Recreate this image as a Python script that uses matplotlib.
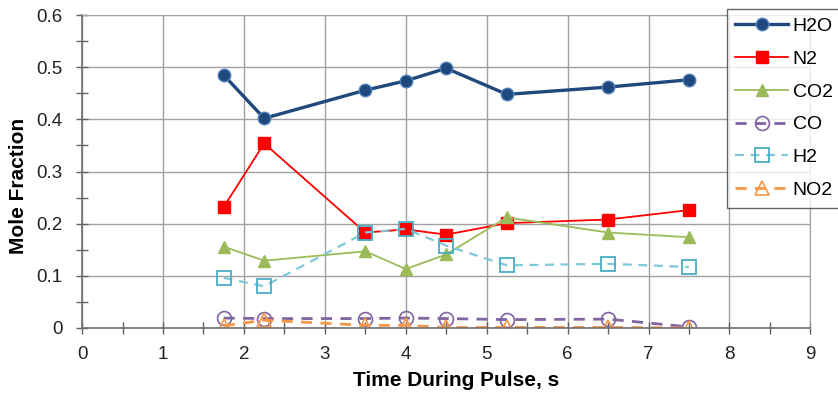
import numpy as np
import matplotlib.pyplot as plt
from matplotlib.ticker import MultipleLocator

plt.rcParams['font.family'] = ['Liberation Sans', 'DejaVu Sans']

# sample times during the pulse, s
time_s = [1.75, 2.25, 3.5, 4.0, 4.5, 5.25, 6.5, 7.5]

# mole fractions of each species
h2o = [0.485, 0.402, 0.456, 0.474, 0.498, 0.448, 0.462, 0.476]
n2 = [0.232, 0.354, 0.183, 0.189, 0.179, 0.201, 0.208, 0.226]
co2 = [0.156, 0.129, 0.147, 0.113, 0.141, 0.212, 0.183, 0.174]
co = [0.019, 0.018, 0.018, 0.019, 0.018, 0.016, 0.017, 0.002]
h2 = [0.096, 0.080, 0.183, 0.190, 0.158, 0.120, 0.123, 0.117]
no2 = [0.004, 0.015, 0.005, 0.005, 0.001, 0.001, 0.001, 0.0]

species = ['H2O', 'N2', 'CO2', 'CO', 'H2', 'NO2']


def main():
    fig = plt.figure(figsize=(8.38, 3.98), dpi=100)
    ax = fig.add_axes([0.098, 0.176, 0.869, 0.786])

    ax.plot(time_s, h2o, color='#1f497d', lw=2.4, marker='o', ms=9,
            mfc='#1f497d', mec='#4f81bd', mew=1.0, label=species[0])
    ax.plot(time_s, n2, color='#ff0000', lw=1.3, marker='s', ms=9,
            mfc='#ff0000', mec='#ff0000', label=species[1])
    ax.plot(time_s, co2, color='#9bbb59', lw=1.3, marker='^', ms=9,
            mfc='#9bbb59', mec='#9bbb59', label=species[2])
    ax.plot(time_s, co, color='#8064a2', lw=2.0, ls=(0, (4, 3)), marker='o',
            ms=10, mfc='none', mec='#8064a2', mew=1.2, label=species[3])
    ax.plot(time_s, h2, color='#7ec8dc', lw=1.6, ls=(0, (4, 3)), marker='s',
            ms=10, mfc='none', mec='#4bacc6', mew=1.3, label=species[4])
    ax.plot(time_s, no2, color='#f79646', lw=2.0, ls=(0, (4, 3)), marker='^',
            ms=10, mfc='none', mec='#f79646', mew=1.2, label=species[5])

    ax.set_xlim(0, 9)
    ax.set_ylim(0, 0.6)
    ax.xaxis.set_major_locator(MultipleLocator(1))
    ax.xaxis.set_minor_locator(MultipleLocator(0.5))
    ax.yaxis.set_minor_locator(MultipleLocator(0.05))
    ax.set_yticks(np.arange(0, 0.61, 0.1))
    ax.set_yticklabels(['0', '0.1', '0.2', '0.3', '0.4', '0.5', '0.6'])

    ax.grid(True, which='major', color='#a0a0a0', lw=1.0)
    ax.set_axisbelow(True)
    ax.tick_params(which='both', direction='inout', length=8, width=1.0,
                   color='#606060')
    ax.tick_params(axis='y', which='major', labelsize=13.5, pad=10,
                   labelcolor='#222222')
    ax.tick_params(axis='x', which='major', labelsize=13.5, pad=9,
                   labelcolor='#222222')
    for side in ['top', 'right']:
        ax.spines[side].set_color('#a0a0a0')
    for side in ['left', 'bottom']:
        ax.spines[side].set_color('#707070')
        ax.spines[side].set_linewidth(1.2)

    ax.set_xlabel('Time During Pulse, s', fontsize=15, fontweight='bold')
    ax.set_ylabel('Mole Fraction', fontsize=15, fontweight='bold')
    ax.xaxis.set_label_coords(0.514, -0.138)
    ax.yaxis.set_label_coords(-0.075, 0.455)

    leg = fig.legend(loc='upper left', bbox_to_anchor=(0.867, 0.978),
                     fontsize=14, frameon=True, fancybox=False,
                     handlelength=2.7, handletextpad=0.25,
                     labelspacing=0.78, borderpad=0.45, borderaxespad=0)
    leg.get_frame().set_edgecolor('#404040')
    leg.get_frame().set_linewidth(1.0)

    fig.savefig('out.png', dpi=100)


if __name__ == '__main__':
    main()
